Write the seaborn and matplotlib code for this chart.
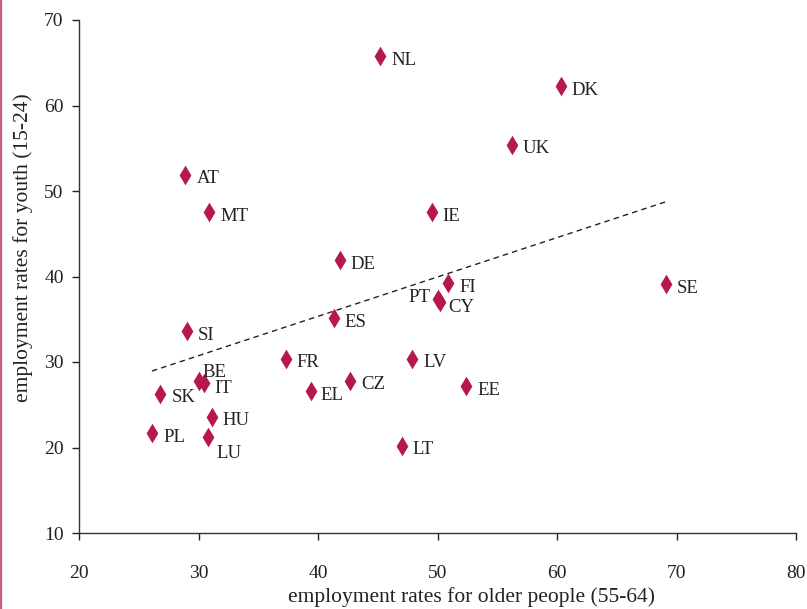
import numpy as np
import pandas as pd
import matplotlib
matplotlib.use("Agg")
import matplotlib.pyplot as plt
import seaborn as sns
from matplotlib.lines import Line2D

countries = ["NL", "DK", "UK", "AT", "MT", "IE", "DE", "FI", "SE", "PT", "CY", "ES", "SI",
             "FR", "LV", "BE", "IT", "CZ", "EE", "EL", "SK", "HU", "PL", "LU", "LT"]
older = [45.2, 60.3, 56.2, 28.9, 30.9, 49.5, 41.8, 50.9, 69.1, 50.0, 50.2, 41.3, 29.0,
         37.3, 47.9, 30.0, 30.5, 42.7, 52.4, 39.4, 26.8, 31.1, 26.1, 30.8, 47.0]
youth = [65.8, 62.3, 55.4, 51.9, 47.5, 47.5, 41.9, 39.2, 39.1, 37.4, 37.0, 35.1, 33.6,
         30.4, 30.4, 27.8, 27.5, 27.8, 27.2, 26.6, 26.3, 23.6, 21.7, 21.2, 20.2]

x_ticks = [20, 30, 40, 50, 60, 70, 80]
y_ticks = [10, 20, 30, 40, 50, 60, 70]

df = pd.DataFrame({"country": countries, "older": older, "youth": youth})

sns.set_theme(style="white")
plt.rcParams["font.family"] = ["Liberation Serif", "DejaVu Serif"]

fig = plt.figure(figsize=(8.07, 6.09), dpi=100)
ax = fig.add_axes([79 / 807, 1 - 533 / 609, (796 - 79) / 807, (533 - 20) / 609])

color = "#B5174E"
sns.scatterplot(data=df, x="older", y="youth", marker="d", s=100, color=color,
                edgecolor=color, linewidth=0, ax=ax, zorder=3)

# linear trend line over the data range
coef = np.polyfit(df["older"], df["youth"], 1)
xs = np.array([df["older"].min(), df["older"].max()])
ax.plot(xs, np.polyval(coef, xs), linestyle=(0, (4, 3)), color="#222222", linewidth=1.0, zorder=2)

# label offsets in points (dx, dy, ha)
offsets = {c: (8, -3, "left") for c in countries}
offsets.update({
    "BE": (3, 6, "left"),
    "IT": (7, -4, "left"),
    "PT": (-5, 1, "right"),
    "CY": (6, -4, "left"),
    "LU": (6, -12, "left"),
    "EL": (7, -3, "left"),
})
for c, x, y in zip(countries, older, youth):
    dx, dy, ha = offsets[c]
    ax.annotate(c, (x, y), xytext=(dx, dy), textcoords="offset points",
                ha=ha, va="center", fontsize=13.5, color="#222222")

ax.set_xlim(20, 80)
ax.set_ylim(10, 70)
ax.set_xticks(x_ticks)
ax.set_yticks(y_ticks)
ax.tick_params(axis="both", labelsize=14, colors="#222222", length=5, width=1,
               direction="out", bottom=True, left=True)
ax.tick_params(axis="x", pad=18)
ax.tick_params(axis="y", pad=6)
ax.set_xlabel("employment rates for older people (55-64)", fontsize=15.5, color="#222222")
ax.set_ylabel("employment rates for youth (15-24)", fontsize=15.5, color="#222222")
ax.xaxis.set_label_coords(0.547, -0.105)
ax.yaxis.set_label_coords(-0.064, 0.557)
for s in ["top", "right"]:
    ax.spines[s].set_visible(False)
for s in ["left", "bottom"]:
    ax.spines[s].set_color("#333333")
    ax.spines[s].set_linewidth(1.0)
ax.grid(False)

fig.add_artist(Line2D([1 / 807, 1 / 807], [0, 1], transform=fig.transFigure,
                      color="#D0548A", linewidth=1.6))

fig.savefig("out.png", dpi=100)
